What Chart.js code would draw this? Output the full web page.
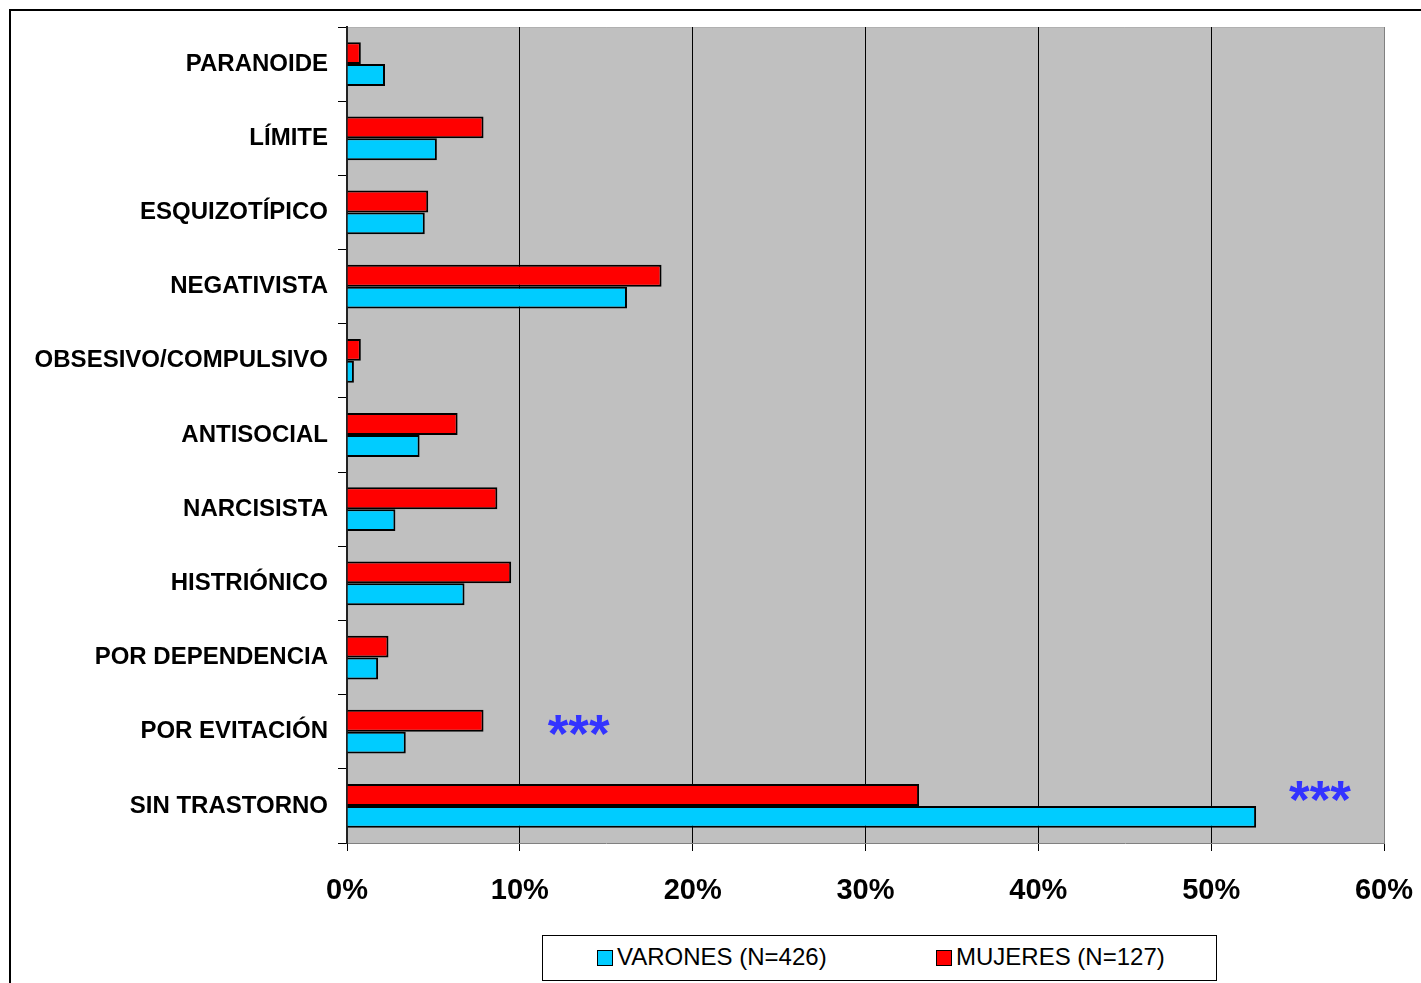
<!DOCTYPE html>
<html>
<head>
<meta charset="utf-8">
<script src="https://cdn.jsdelivr.net/npm/chart.js@4"></script>
<style>
  html, body { margin: 0; padding: 0; background: #fff; overflow: hidden; }
  #frame { position: absolute; left: 9px; top: 9px; width: 1500px; height: 1100px; border: 2px solid #000; box-sizing: border-box; }
  #wrap { position: absolute; left: 0; top: 0; width: 1421px; height: 983px; }
  #legend { position: absolute; left: 542px; top: 935px; width: 675px; height: 46px; box-sizing: border-box;
            border: 1px solid #000; background: #fff; font: 24px "Liberation Sans", Arial, sans-serif; color: #000; }
  .item { position: absolute; top: 7px; line-height: 28px; white-space: nowrap; }
  .sw { display: inline-block; width: 14px; height: 14px; border: 1px solid #000; vertical-align: -1px; margin-right: 4px; }
</style>
</head>
<body>
<div id="frame"></div>
<div id="wrap"><canvas id="chart"></canvas></div>
<div id="legend">
  <div class="item" style="left:54px"><span class="sw" style="background:#00CCFF"></span>VARONES (N=426)</div>
  <div class="item" style="left:393px"><span class="sw" style="background:#FF0000"></span>MUJERES (N=127)</div>
</div>
<script>
// trastornos de personalidad, % por sexo
var categories = ['PARANOIDE', 'LÍMITE', 'ESQUIZOTÍPICO', 'NEGATIVISTA', 'OBSESIVO/COMPULSIVO',
  'ANTISOCIAL', 'NARCISISTA', 'HISTRIÓNICO', 'POR DEPENDENCIA', 'POR EVITACIÓN', 'SIN TRASTORNO'];
var varones = [2.2, 5.2, 4.5, 16.2, 0.4, 4.2, 2.8, 6.8, 1.8, 3.4, 52.6];
var mujeres = [0.8, 7.9, 4.7, 18.2, 0.8, 6.4, 8.7, 9.5, 2.4, 7.9, 33.1];
var xTicks = [0, 10, 20, 30, 40, 50, 60];
// significance markers: category and x value where "***" sits
var sigCats = ['POR EVITACIÓN', 'SIN TRASTORNO'];
var sigX = [13.4, 56.3];

var font = '"Liberation Sans", Arial, sans-serif';

// grey plot background
var plotBg = {
  id: 'plotBg',
  beforeDraw: function (chart) {
    var a = chart.chartArea, c = chart.ctx;
    c.save();
    c.fillStyle = '#C0C0C0';
    c.fillRect(a.left, a.top, a.right - a.left, a.bottom - a.top);
    c.strokeStyle = '#b0b0b0';
    c.lineWidth = 1;
    c.beginPath();
    c.moveTo(a.left, a.top + 0.5);
    c.lineTo(a.right, a.top + 0.5);
    c.stroke();
    c.restore();
  }
};

// asterisks
var sigMarks = {
  id: 'sigMarks',
  afterDatasetsDraw: function (chart) {
    var c = chart.ctx, xs = chart.scales.x, ys = chart.scales.y;
    c.save();
    c.fillStyle = '#3333FF';
    c.font = 'bold 53px ' + font;
    c.textAlign = 'center';
    c.textBaseline = 'alphabetic';
    for (var i = 0; i < sigCats.length; i++) {
      var y = ys.getPixelForValue(categories.indexOf(sigCats[i]));
      var off = i === 0 ? 20 : 12;
      c.fillText('***', xs.getPixelForValue(sigX[i]), y + off);
    }
    c.restore();
  }
};

new Chart(document.getElementById('chart'), {
  type: 'bar',
  data: {
    labels: categories,
    datasets: [
      { label: 'MUJERES (N=127)', data: mujeres, backgroundColor: '#FF0000', borderColor: '#000', borderWidth: 2,
        categoryPercentage: 0.59, barPercentage: 1.0 },
      { label: 'VARONES (N=426)', data: varones, backgroundColor: '#00CCFF', borderColor: '#000', borderWidth: 2,
        categoryPercentage: 0.59, barPercentage: 1.0 }
    ]
  },
  options: {
    indexAxis: 'y',
    responsive: true,
    maintainAspectRatio: false,
    animation: false,
    layout: { padding: { left: 0, top: 27, right: 37, bottom: 50 } },
    plugins: { legend: { display: false }, tooltip: { enabled: false } },
    scales: {
      x: {
        min: 0, max: 60,
        afterBuildTicks: function (s) { s.ticks = xTicks.map(function (v) { return { value: v }; }); },
        afterFit: function (s) { s.height = 90; s.paddingLeft = 0; s.paddingRight = 0; },
        border: { color: '#808080', width: 1 },
        grid: {
          color: function (ctx) { return ctx.index === 6 ? '#808080' : '#000'; },
          tickColor: '#000',
          tickLength: 8,
          lineWidth: 1
        },
        ticks: {
          padding: 23,
          color: '#000',
          font: { family: font, size: 29, weight: 'bold' },
          callback: function (v) { return v + '%'; }
        }
      },
      y: {
        afterFit: function (s) { s.width = 347; s.paddingTop = 0; s.paddingBottom = 0; },
        border: { color: '#222', width: 2 },
        grid: { drawOnChartArea: false, color: '#000', tickLength: 9, offset: true },
        ticks: {
          padding: 10,
          color: '#000',
          font: { family: font, size: 24, weight: 'bold' }
        }
      }
    }
  },
  plugins: [plotBg, sigMarks]
});
</script>
</body>
</html>
